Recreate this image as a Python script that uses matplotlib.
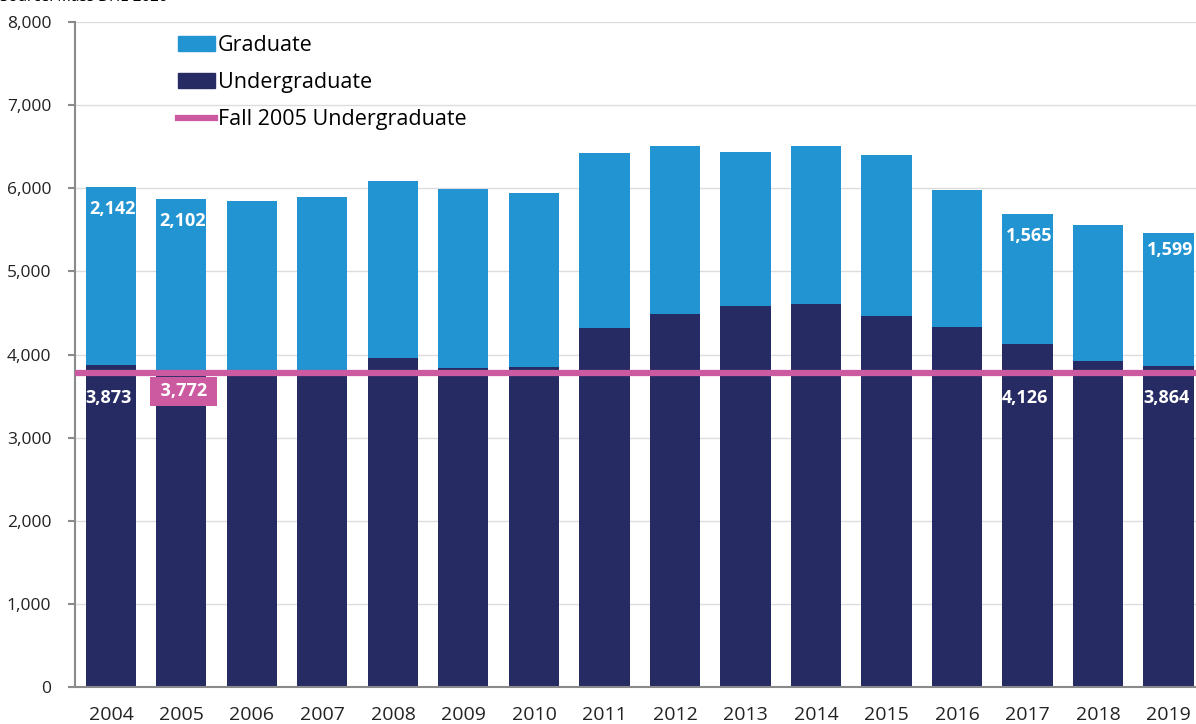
import numpy as np
import matplotlib
matplotlib.use('Agg')
import matplotlib.pyplot as plt
from matplotlib.patches import Patch
from matplotlib.lines import Line2D

plt.rcParams['font.family'] = ['Open Sans', 'DejaVu Sans']

years = ['2004', '2005', '2006', '2007', '2008', '2009', '2010', '2011',
         '2012', '2013', '2014', '2015', '2016', '2017', '2018', '2019']
undergrad = [3873, 3772, 3800, 3800, 3955, 3834, 3846, 4316,
             4489, 4585, 4605, 4468, 4328, 4126, 3923, 3864]
graduate = [2142, 2102, 2048, 2096, 2134, 2159, 2099, 2106,
            2025, 1849, 1905, 1934, 1649, 1565, 1637, 1599]
baseline = 3772  # fall 2005 undergraduate

# which bars carry value labels
grad_labels = ['2004', '2005', '2017', '2019']
ug_labels = ['2004', '2017', '2019']

c_grad = '#2394d2'
c_ug = '#262b63'
c_line = '#cc5aa0'

fig = plt.figure(figsize=(11.96, 7.24), dpi=100)
ax = fig.add_axes([0.0627, 0.0511, 0.9373, 0.9185])

x = np.arange(len(years))
ax.bar(x, undergrad, width=0.71, color=c_ug, zorder=2)
ax.bar(x, graduate, width=0.71, bottom=undergrad, color=c_grad, zorder=2)
ax.axhline(baseline, color=c_line, lw=4.5, zorder=3)

for i, yr in enumerate(years):
    tot = undergrad[i] + graduate[i]
    if yr in grad_labels:
        off = 200 if yr == '2019' else 270
        ax.text(i + 0.02, tot - off, f'{graduate[i]:,}', color='white', fontsize=13,
                fontweight='bold', ha='center', va='center', zorder=4)
    if yr in ug_labels:
        ax.text(i - 0.03, baseline - 290, f'{undergrad[i]:,}', color='white', fontsize=13,
                fontweight='bold', ha='center', va='center', zorder=4)

# baseline value in a magenta box
ax.text(1.03, baseline - 215, f' {baseline:,} ', color='white', fontsize=13, fontweight='bold',
        ha='center', va='center', zorder=4,
        bbox=dict(boxstyle='square,pad=0.3', fc=c_line, ec='none'))

ax.set_xlim(-0.51, 15.39)
ax.set_ylim(0, 8000)
ax.set_yticks(range(0, 8001, 1000))
ax.set_yticklabels([f'{v:,}' for v in range(0, 8001, 1000)], fontsize=12.5, color='#222222')
ax.set_xticks(x)
ax.set_xticklabels(years, fontsize=14, color='#222222')
ax.tick_params(axis='x', length=0, pad=14)
ax.tick_params(axis='y', length=5, width=1.5, color='#8a8a8a', pad=12)
ax.grid(axis='y', color='#dcdcdc', lw=1, zorder=0)
for s in ['top', 'right']:
    ax.spines[s].set_visible(False)
ax.spines['left'].set_color('#8a8a8a')
ax.spines['left'].set_linewidth(1.5)
ax.spines['bottom'].set_color('#8a8a8a')
ax.spines['bottom'].set_linewidth(1.5)

handles = [Patch(color=c_grad), Patch(color=c_ug), Line2D([], [], color=c_line, lw=4.5)]
ax.legend(handles, ['Graduate', 'Undergraduate', 'Fall 2005 Undergraduate'],
          loc='upper left', bbox_to_anchor=(0.08, 1.0), frameon=False, fontsize=15.5,
          handlelength=1.75, handleheight=0.7, handletextpad=0.12, labelspacing=0.75,
          borderaxespad=0.2)

fig.text(0.0, 1.003, 'Source: Mass DHE 2020', fontsize=11, va='center', ha='left')

fig.savefig('out.png', dpi=100)
